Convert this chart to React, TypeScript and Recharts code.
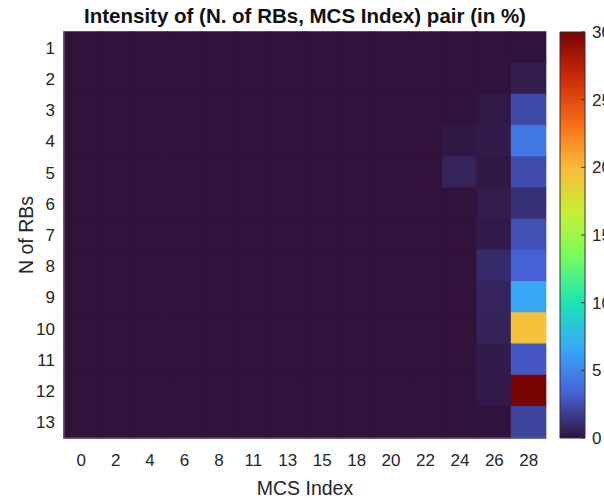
import React from 'react';
import { BarChart, Bar, XAxis, YAxis, Cell } from 'recharts';

// MCS index categories (x) and number of RBs (y)
const mcsLabels = ['0', '2', '4', '6', '8', '11', '13', '15', '18', '20', '22', '24', '26', '28'];
const rbLabels = ['1', '2', '3', '4', '5', '6', '7', '8', '9', '10', '11', '12', '13'];

// Intensity (in %) per RB row, one value per MCS column
const rb1 = [0, 0, 0, 0, 0, 0, 0, 0, 0, 0, 0, 0, 0, 0];
const rb2 = [0, 0, 0, 0, 0, 0, 0, 0, 0, 0, 0, 0, 0, 0.4];
const rb3 = [0, 0, 0, 0, 0, 0, 0, 0, 0, 0, 0, 0, 0.25, 2.3];
const rb4 = [0, 0, 0, 0, 0, 0, 0, 0, 0, 0, 0, 0.2, 0.35, 4.3];
const rb5 = [0, 0, 0, 0, 0, 0, 0, 0, 0, 0, 0, 0.7, 0.2, 2.4];
const rb6 = [0, 0, 0, 0, 0, 0, 0, 0, 0, 0, 0, 0, 0.4, 1.25];
const rb7 = [0, 0, 0, 0, 0, 0, 0, 0, 0, 0, 0, 0, 0.3, 2.6];
const rb8 = [0, 0, 0, 0, 0, 0, 0, 0, 0, 0, 0, 0, 1.0, 3.3];
const rb9 = [0, 0, 0, 0, 0, 0, 0, 0, 0, 0, 0, 0, 0.75, 6.5];
const rb10 = [0, 0, 0, 0, 0, 0, 0, 0, 0, 0, 0, 0, 0.65, 19.5];
const rb11 = [0, 0, 0, 0, 0, 0, 0, 0, 0, 0, 0, 0, 0.35, 2.9];
const rb12 = [0, 0, 0, 0, 0, 0, 0, 0, 0, 0, 0, 0, 0.3, 30];
const rb13 = [0, 0, 0, 0, 0, 0, 0, 0, 0, 0, 0, 0, 0.05, 2.1];
const intensity = [rb1, rb2, rb3, rb4, rb5, rb6, rb7, rb8, rb9, rb10, rb11, rb12, rb13];

const colorTicks = [0, 5, 10, 15, 20, 25, 30];
const CMAX = 30;

const TURBO = ['#30123b', '#4662d7', '#36aaf9', '#1ae4b6', '#72fe5e', '#c8ef34', '#faba39', '#f66b19', '#cb2a04', '#7a0403'];

const hexToRgb = (h: string) => [1, 3, 5].map((i) => parseInt(h.slice(i, i + 2), 16));
const turbo = (v: number) => {
  const t = Math.max(0, Math.min(1, v / CMAX)) * (TURBO.length - 1);
  const i = Math.min(TURBO.length - 2, Math.floor(t));
  const f = t - i;
  const a = hexToRgb(TURBO[i]);
  const b = hexToRgb(TURBO[i + 1]);
  const c = a.map((x, k) => Math.round(x + (b[k] - x) * f));
  return `rgb(${c[0]},${c[1]},${c[2]})`;
};

// one row per MCS category, each RB row is a unit-height stacked segment
const tableData = mcsLabels.map((m) => {
  const row: Record<string, any> = { mcs: m };
  rbLabels.forEach((r) => {
    row['rb' + r] = 1;
  });
  return row;
});

const yTicks = rbLabels.map((_, i) => i + 0.5);
const FONT = '"Liberation Sans", Arial, Helvetica, sans-serif';
const TXT = '#262626';
const BORDER = '#6a6a6a';
const TICK_FS = 17;
const LABEL_FS = 19.5;

const ColorTick = (props: any) => {
  const { x, y, payload } = props;
  return (
    <g>
      <line x1={x - 12} x2={x - 8} y1={y} y2={y} stroke="#333" strokeWidth={1} />
      <text x={x - 1} y={y} dy="0.35em" fontSize={TICK_FS} fill={TXT} fontFamily={FONT} textAnchor="start">
        {payload.value}
      </text>
    </g>
  );
};

export default function App() {
  return (
    <div style={{ position: 'absolute', left: 0, top: 0, width: 604, height: 502, background: '#fff', fontFamily: FONT, overflow: 'hidden' }}>
      <div style={{ position: 'absolute', left: 0, top: 0 }}>
        <BarChart
          width={604}
          height={502}
          data={tableData}
          margin={{ top: 32, right: 58, left: 0, bottom: 0 }}
          barCategoryGap={0}
          barGap={0}
        >
          <XAxis
            dataKey="mcs"
            type="category"
            interval={0}
            height={64}
            tickLine={false}
            tickSize={0}
            tickMargin={16}
            axisLine={{ stroke: BORDER }}
            tick={{ fontSize: TICK_FS, fill: TXT, fontFamily: FONT }}
            label={{ value: 'MCS Index', position: 'insideBottom', offset: 7, fontSize: LABEL_FS, fill: TXT, fontFamily: FONT }}
          />
          <XAxis xAxisId="top" dataKey="mcs" orientation="top" height={0} tick={false} tickLine={false} axisLine={{ stroke: BORDER }} />
          <YAxis
            type="number"
            domain={[0, rbLabels.length]}
            reversed
            ticks={yTicks}
            interval={0}
            width={64}
            tickLine={false}
            tickSize={0}
            tickMargin={9}
            axisLine={{ stroke: BORDER }}
            tickFormatter={(v: number) => rbLabels[Math.floor(v)]}
            tick={{ fontSize: TICK_FS, fill: TXT, fontFamily: FONT }}
            label={{ value: 'N of RBs', angle: -90, position: 'insideLeft', offset: 26, fontSize: LABEL_FS, fill: TXT, fontFamily: FONT, style: { textAnchor: 'middle' } }}
          />
          <YAxis yAxisId="right" type="number" domain={[0, rbLabels.length]} reversed orientation="right" width={0} tick={false} tickLine={false} axisLine={{ stroke: BORDER }} />
          {rbLabels.map((r, ri) => (
            <Bar key={r} dataKey={'rb' + r} stackId="heat" isAnimationActive={false}>
              {mcsLabels.map((m, ci) => {
                const c = turbo(intensity[ri][ci]);
                return <Cell key={m} fill={c} stroke={c} strokeWidth={1.5} />;
              })}
            </Bar>
          ))}
        </BarChart>
      </div>
      <div style={{ position: 'absolute', left: 0, top: 0 }}>
        <BarChart
          width={604}
          height={502}
          data={[{ k: 'bar', v: CMAX }]}
          margin={{ top: 32, right: 0, bottom: 64, left: 560 }}
          barCategoryGap={0}
        >
          <defs>
            <linearGradient id="turboGrad" x1="0" y1="0" x2="0" y2="1">
              {TURBO.map((c, i) => (
                <stop key={i} offset={`${(i / (TURBO.length - 1)) * 100}%`} stopColor={TURBO[TURBO.length - 1 - i]} />
              ))}
            </linearGradient>
          </defs>
          <XAxis dataKey="k" hide />
          <YAxis
            type="number"
            orientation="right"
            domain={[0, CMAX]}
            ticks={colorTicks}
            interval={0}
            width={19}
            axisLine={false}
            tickLine={false}
            tick={<ColorTick />}
          />
          <Bar dataKey="v" fill="url(#turboGrad)" stroke="#333" strokeWidth={1} isAnimationActive={false} />
        </BarChart>
      </div>
      <div
        style={{
          position: 'absolute',
          left: 64,
          width: 482,
          top: 4,
          lineHeight: '24px',
          textAlign: 'center',
          fontWeight: 'bold',
          fontSize: 20.5,
          color: '#111',
          whiteSpace: 'nowrap',
        }}
      >
        Intensity of (N. of RBs, MCS Index) pair (in %)
      </div>
    </div>
  );
}
